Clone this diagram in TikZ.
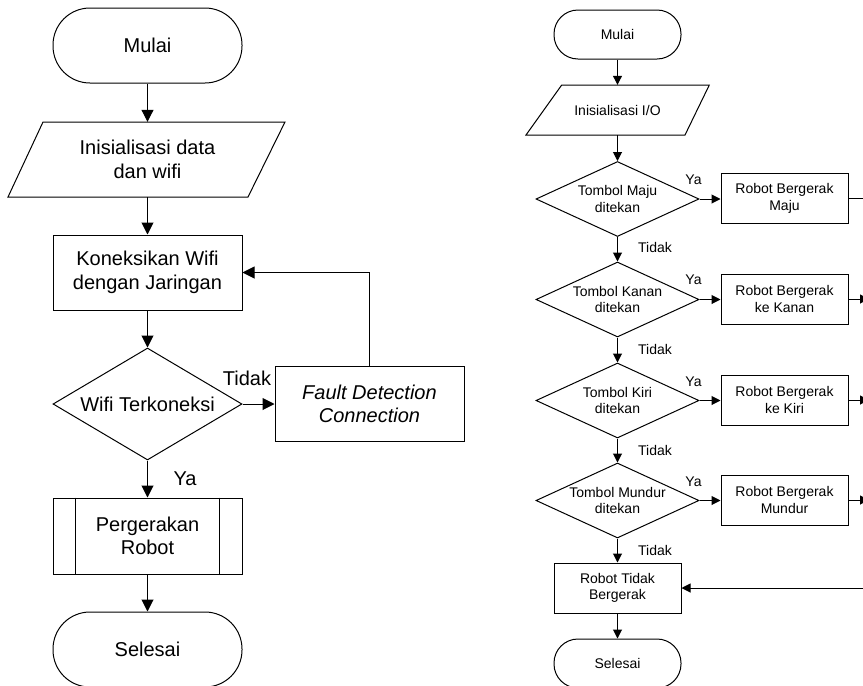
\documentclass[tikz,border=0pt]{standalone}
\usepackage{fontspec}
\setmainfont{Liberation Sans}
\usetikzlibrary{shapes.geometric,arrows.meta,calc}
\begin{document}
\begin{tikzpicture}[x=1pt,y=-1pt,
  lfont/.style={font=\fontsize{20}{23.5}\selectfont},
  rfont/.style={font=\fontsize{14}{16.5}\selectfont},
  base/.style={draw=black, line width=1pt, align=center, inner sep=0pt},
  termL/.style={base, lfont, minimum width=189pt, minimum height=75pt, rounded corners=37pt},
  boxL/.style={base, lfont, minimum width=189pt, minimum height=75pt},
  decL/.style={base, lfont, diamond, aspect=1.69, minimum width=189pt, minimum height=112pt},
  paraL/.style={lfont, align=center, inner sep=0pt, minimum height=75pt},
  termR/.style={base, rfont, minimum width=127pt, minimum height=49pt, rounded corners=24pt},
  boxR/.style={base, rfont, minimum width=127pt, minimum height=50pt},
  decR/.style={base, diamond, aspect=2.17, minimum width=163pt, minimum height=75pt},
  dtext/.style={rfont, align=center, inner sep=0pt},
  paraR/.style={rfont, align=center, inner sep=0pt, minimum height=50pt},
  arrL/.style={draw=black, line width=1pt, -{Triangle[length=12pt,width=12pt]}},
  arrR/.style={draw=black, line width=1pt, -{Triangle[length=9pt,width=9pt]}},
  lineR/.style={draw=black, line width=1pt},
  lblL/.style={lfont, inner sep=0pt},
  lblR/.style={rfont, inner sep=0pt}
]
\useasboundingbox (0,0) rectangle (863,686);
\clip (0,0) rectangle (863,686);

% ---------------- left flowchart ----------------
\node[termL] (mulai) at (147.5,45.5) {Mulai};
\node[paraL] (init) at (147.5,159.5) {Inisialisasi data\\dan wifi};
\draw[line width=1pt] ($(init.center)+(-104.5,-37.5)$) -- ($(init.center)+(137.5,-37.5)$)
  -- ($(init.center)+(100.5,37.5)$) -- ($(init.center)+(-139.5,37.5)$) -- cycle;
\node[boxL] (kon) at (147.5,272.5) {Koneksikan Wifi\\dengan Jaringan};
\node[decL] (wifi) at (147.5,404) {Wifi Terkoneksi};
\node[boxL, font=\fontsize{20}{23.5}\selectfont\itshape] (fd) at (369.5,404) {Fault Detection\\Connection};
\node[boxL, minimum height=76pt] (pp) at (147.5,536) {Pergerakan\\Robot};
\draw[line width=1pt] ([xshift=23pt]pp.north west) -- ([xshift=23pt]pp.south west);
\draw[line width=1pt] ([xshift=-23pt]pp.north east) -- ([xshift=-23pt]pp.south east);
\node[termL] (sel) at (147.5,649.5) {Selesai};

\draw[arrL] (mulai.south) -- (init.north);
\draw[arrL] (init.south) -- (kon.north);
\draw[arrL] (kon.south) -- (wifi.north);
\draw[arrL] (wifi.east) -- (fd.west);
\draw[arrL] (fd.north) |- (kon.east);
\draw[arrL] (wifi.south) -- (pp.north);
\draw[arrL] (pp.south) -- (sel.north);

\node[lblL] (tdkL) at (247,378) {Tidak};
\node[lblL] (yaL) at (185,478.5) {Ya};

% ---------------- right flowchart ----------------
\node[termR] (m2) at (617.5,34.5) {Mulai};
\node[paraR] (io) at (617.5,110) {Inisialisasi I/O};
\draw[line width=1pt] ($(io.center)+(-55.8,-25)$) -- ($(io.center)+(91.8,-25)$)
  -- ($(io.center)+(67.5,25)$) -- ($(io.center)+(-91.5,25)$) -- cycle;

\node[decR, label={[dtext]center:Tombol Maju\\ditekan}] (d1) at (617.5,199) {};
\node[decR, label={[dtext]center:Tombol Kanan\\ditekan}] (d2) at (617.5,299.5) {};
\node[decR, label={[dtext]center:Tombol Kiri\\ditekan}] (d3) at (617.5,400.5) {};
\node[decR, label={[dtext]center:Tombol Mundur\\ditekan}] (d4) at (617.5,500.5) {};

\node[boxR] (b1) at (784.5,198.5) {Robot Bergerak\\Maju};
\node[boxR] (b2) at (784.5,299) {Robot Bergerak\\ke Kanan};
\node[boxR] (b3) at (784.5,400) {Robot Bergerak\\ke Kiri};
\node[boxR] (b4) at (784.5,500) {Robot Bergerak\\Mundur};

\node[boxR] (rtb) at (617.5,588) {Robot Tidak\\Bergerak};
\node[termR] (s2) at (617.5,663.5) {Selesai};

\coordinate (e1) at (869,198.5);
\coordinate (e2) at (869,299);
\coordinate (e3) at (869,400);
\coordinate (e4) at (869,500);
\coordinate (eb) at (869,588);

\draw[arrR] (m2.south) -- (io.north);
\draw[arrR] (io.south) -- (d1.north);
\draw[arrR] (d1.south) -- (d2.north);
\draw[arrR] (d2.south) -- (d3.north);
\draw[arrR] (d3.south) -- (d4.north);
\draw[arrR] (d4.south) -- (rtb.north);
\draw[arrR] (rtb.south) -- (s2.north);

\draw[arrR] (d1.east) -- (d1.east -| b1.west);
\draw[arrR] (d2.east) -- (d2.east -| b2.west);
\draw[arrR] (d3.east) -- (d3.east -| b3.west);
\draw[arrR] (d4.east) -- (d4.east -| b4.west);

\draw[lineR] (b1.east) -- (e1) -- (eb);
\draw[arrR] (b2.east) -- (e2);
\draw[arrR] (b3.east) -- (e3);
\draw[arrR] (b4.east) -- (e4);
\draw[arrR] (eb) -- (rtb.east);

\node[lblR] (ya1) at (693.5,180) {Ya};
\node[lblR] (ya2) at (693.5,280) {Ya};
\node[lblR] (ya3) at (693.5,381.5) {Ya};
\node[lblR] (ya4) at (693.5,482) {Ya};
\node[lblR] (t1) at (655,247.5) {Tidak};
\node[lblR] (t2) at (655,349) {Tidak};
\node[lblR] (t3) at (655,450.5) {Tidak};
\node[lblR] (t4) at (655,550.5) {Tidak};
\end{tikzpicture}
\end{document}
